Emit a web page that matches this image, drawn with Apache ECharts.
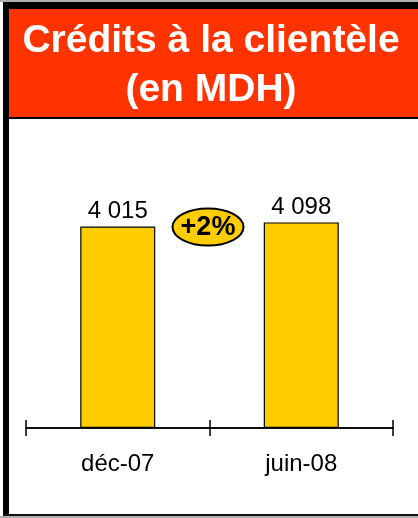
<!DOCTYPE html>
<html>
<head>
<meta charset="utf-8">
<script src="https://cdn.jsdelivr.net/npm/echarts@6/dist/echarts.min.js"></script>
<style>
html,body{margin:0;padding:0;background:#fff;}
#c{width:418px;height:518px;}
</style>
</head>
<body>
<div id="c"></div>
<script>
var categories = ['déc-07', 'juin-08'];
var values = [4015, 4098];
var valueLabels = ['4 015', '4 098'];
var growthLabel = '+2%';
var titleText = 'Crédits à la clientèle\n(en MDH)';

var FONT = '"Liberation Sans", Arial, sans-serif';
var chart = echarts.init(document.getElementById('c'), null, {renderer: 'canvas'});

var commonAxis = {
  type: 'category',
  data: categories,
  position: 'bottom',
  boundaryGap: true,
  axisLine: {show: true, lineStyle: {color: '#000', width: 1.5}},
  splitLine: {show: false}
};

chart.setOption({
  animation: false,
  backgroundColor: '#fff',
  title: {
    text: titleText,
    left: 211,
    top: 17,
    textAlign: 'center',
    padding: 0,
    textStyle: {
      color: '#fff', fontFamily: FONT, fontWeight: 'bold',
      fontSize: 39, lineHeight: 49
    }
  },
  grid: {left: 26, right: 25, top: 127, bottom: 90, containLabel: false},
  xAxis: [
    Object.assign({}, commonAxis, {
      axisTick: {show: true, inside: false, length: 8, lineStyle: {color: '#000', width: 1.5}},
      axisLabel: {show: true, color: '#000', fontFamily: FONT, fontSize: 24, margin: 24}
    }),
    Object.assign({}, commonAxis, {
      axisTick: {show: true, inside: true, length: 8, lineStyle: {color: '#000', width: 1.5}},
      axisLabel: {show: false}
    })
  ],
  yAxis: {
    type: 'value', min: 0, max: 6000, show: false,
    splitLine: {show: false}
  },
  series: [{
    type: 'bar',
    xAxisIndex: 0,
    data: values,
    barWidth: 75,
    itemStyle: {color: '#FFCC00', borderColor: '#000', borderWidth: 1.2},
    label: {
      show: true, position: 'top', distance: 3,
      color: '#000', fontFamily: FONT, fontSize: 24,
      formatter: function (p) { return valueLabels[p.dataIndex]; }
    }
  }],
  graphic: [
    {type: 'rect', shape: {x: 0, y: 0, width: 418, height: 2}, style: {fill: '#b0b0b0'}, z: 100},
    {type: 'rect', shape: {x: 3, y: 2, width: 415, height: 7}, style: {fill: '#000'}, z: 100},
    {type: 'rect', shape: {x: 3, y: 2, width: 6, height: 515}, style: {fill: '#000'}, z: 100},
    {type: 'rect', shape: {x: 9, y: 9, width: 409, height: 108}, style: {fill: '#FF3300'}, z: -10},
    {type: 'rect', shape: {x: 9, y: 117, width: 409, height: 2}, style: {fill: '#000'}, z: 100},
    {type: 'rect', shape: {x: 3, y: 514, width: 415, height: 2}, style: {fill: '#111'}, z: 100},
    {type: 'rect', shape: {x: 0, y: 516, width: 418, height: 2}, style: {fill: '#b0b0b0'}, z: 100},
    {
      type: 'ellipse', shape: {cx: 208, cy: 227, rx: 35.5, ry: 18.5},
      style: {fill: '#FFCC00', stroke: '#000', lineWidth: 2}, z: 100
    },
    {
      type: 'text', x: 208, y: 228, z: 101,
      style: {
        text: growthLabel, fill: '#000', font: 'bold 27px ' + FONT,
        textAlign: 'center', textVerticalAlign: 'middle'
      }
    }
  ]
});
</script>
</body>
</html>
